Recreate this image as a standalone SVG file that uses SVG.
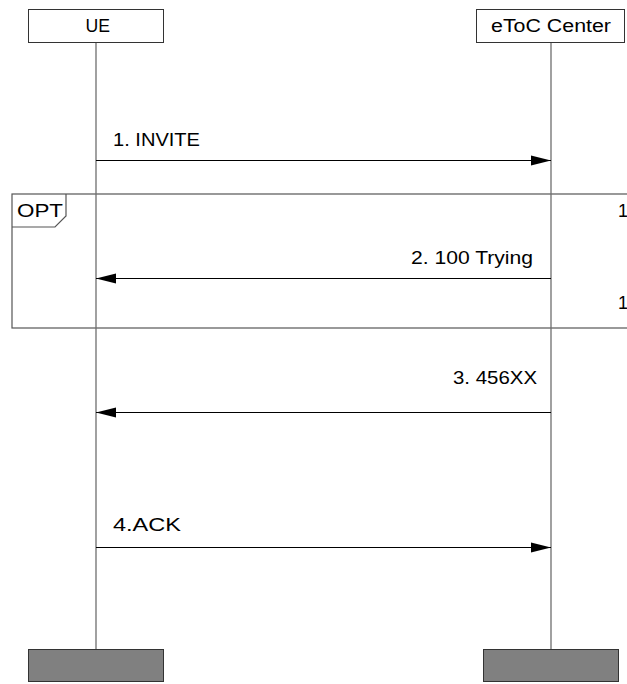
<svg xmlns="http://www.w3.org/2000/svg" width="627" height="684" viewBox="0 0 627 684">
<defs>
<style>
text{font-family:"Liberation Sans",Arial,sans-serif;font-size:18px;fill:#000}
.head{fill:#fff;stroke:#333;stroke-width:1}
.foot{fill:#808080;stroke:#333;stroke-width:1}
.life{stroke:#6e6e6e;stroke-width:1.3;fill:none}
.msg{stroke:#000;stroke-width:1;fill:none}
.frame{stroke:#555;stroke-width:1.2;fill:none}
</style>
<marker id="ah" markerWidth="20" markerHeight="12" refX="20" refY="6" orient="auto" markerUnits="userSpaceOnUse">
<path d="M0,1 L20,6 L0,11 Z" fill="#000"/>
</marker>
</defs>
<rect width="627" height="684" fill="#fff"/>
<g id="opt-frame">
<rect class="frame" x="12" y="194" width="640" height="134"/>
<path class="frame" d="M12,227 L55,227 L66,216 L66,194"/>
<text x="17" y="217" textLength="46" lengthAdjust="spacingAndGlyphs">OPT</text>
<text x="618" y="217">1</text>
<text x="618" y="309">1</text>
</g>
<g id="lifelines">
<line class="life" x1="96" y1="43" x2="96" y2="649"/>
<line class="life" x1="551" y1="43" x2="551" y2="649"/>
</g>
<g id="UE">
<rect class="head" x="28.5" y="9.5" width="135" height="33"/>
<text x="85.5" y="32" textLength="24.5" lengthAdjust="spacingAndGlyphs">UE</text>
<rect class="foot" x="28.5" y="649.5" width="135" height="32"/>
</g>
<g id="eToC-Center">
<rect class="head" x="476.5" y="9.5" width="148" height="33"/>
<text x="491" y="32" textLength="120" lengthAdjust="spacingAndGlyphs">eToC Center</text>
<rect class="foot" x="483.5" y="649.5" width="135" height="32"/>
</g>
<g id="connectors">
<line class="msg" x1="96" y1="160.5" x2="551" y2="160.5" marker-end="url(#ah)"/>
<text x="113" y="146" textLength="87" lengthAdjust="spacingAndGlyphs">1. INVITE</text>
<line class="msg" x1="551" y1="278.5" x2="96" y2="278.5" marker-end="url(#ah)"/>
<text x="411" y="264" textLength="122" lengthAdjust="spacingAndGlyphs">2. 100 Trying</text>
<line class="msg" x1="551" y1="412.5" x2="96" y2="412.5" marker-end="url(#ah)"/>
<text x="453" y="384" textLength="84" lengthAdjust="spacingAndGlyphs">3. 456XX</text>
<line class="msg" x1="96" y1="547.5" x2="551" y2="547.5" marker-end="url(#ah)"/>
<text x="113" y="531" textLength="68" lengthAdjust="spacingAndGlyphs">4.ACK</text>
</g>
</svg>
